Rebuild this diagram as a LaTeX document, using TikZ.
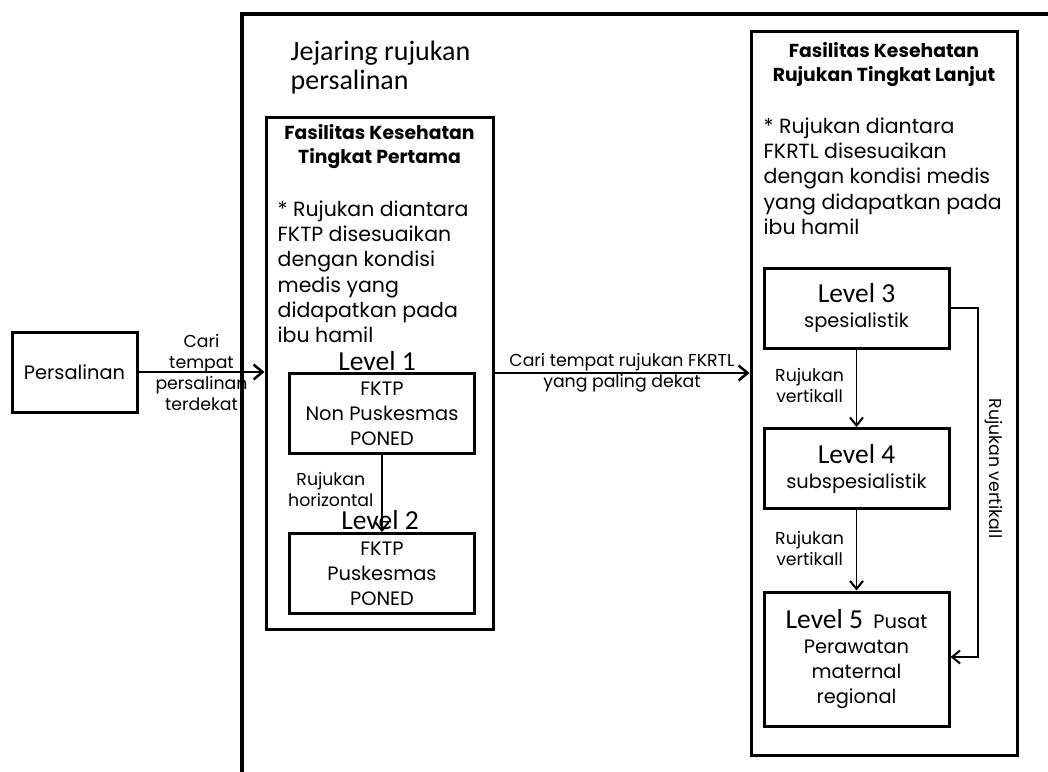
\documentclass[tikz,border=0pt]{standalone}
\usepackage{fontspec}
\setmainfont{Poppins}
\newfontfamily\calibri{Carlito}
\usetikzlibrary{arrows.meta}

\begin{document}
\begin{tikzpicture}[x=1pt,y=-1pt,->,>={Straight Barb[length=8pt,width=13pt,line width=2pt]},
  node distance=160pt,line width=1.3pt,
  box node/.style={draw,line width=3pt,inner sep=0pt,align=center,font=\fontsize{19.4}{25}\selectfont},
  level node/.style={box node,minimum width=185pt,minimum height=80pt},
  level label/.style={font=\calibri\fontsize{27.5}{28}\selectfont,inner sep=1pt,anchor=south},
  note text/.style={align=left,anchor=north west,inner sep=0pt,font=\fontsize{20.5}{25.3}\selectfont},
  title text/.style={align=center,inner sep=0pt,font=\bfseries\fontsize{18.8}{24}\selectfont},
  small text/.style={align=center,inner sep=2pt,font=\fontsize{17.3}{21}\selectfont},
  main arrow/.style={line width=1.5pt,>={Straight Barb[length=9pt,width=15pt,line width=2.5pt]}}]

 \useasboundingbox (0,0) rectangle (1048,771);

 \node[box node,minimum width=125pt,minimum height=80pt] (persalinan) at (74.5,372) {Persalinan};
 \node[box node,minimum width=227pt,minimum height=512pt] (fktp) at (379.5,373) {};
 \node[box node,minimum width=266pt,minimum height=724pt] (fkrtl) at (884,393) {};

 \node[anchor=west,align=left,inner sep=0pt,font=\calibri\fontsize{28}{29}\selectfont] (jejaring) at (290,68) {Jejaring rujukan\\persalinan};
 \node[title text] (fktp title) at (379.5,147) {Fasilitas Kesehatan\\Tingkat Pertama};
 \node[note text] (fktp note) at (277,200) {* Rujukan diantara\\FKTP disesuaikan\\dengan kondisi\\medis yang\\didapatkan pada\\ibu hamil};
 \node[title text] (fkrtl title) at (884,65) {Fasilitas Kesehatan\\Rujukan Tingkat Lanjut};
 \node[note text] (fkrtl note) at (763,117) {* Rujukan diantara\\FKRTL disesuaikan\\dengan kondisi medis\\yang didapatkan pada\\ibu hamil};

 \node[level node] (lvl1) at (382,413.5) {FKTP\\Non Puskesmas\\PONED};
 \node[level node] (lvl2) [below of=lvl1] {FKTP\\Puskesmas\\PONED};
 \node[level label] (lbl1) at ([xshift=-5pt]lvl1.north) {Level 1};
 \node[level label] (lbl2) at ([xshift=-2pt,yshift=1pt]lvl2.north) {Level 2};

 \node[level node] (lvl3) at (856.5,308) {{\calibri\fontsize{27.5}{26}\selectfont Level 3}\\spesialistik};
 \node[level node,node distance=160.5pt] (lvl4) [below of=lvl3] {{\calibri\fontsize{27.5}{26}\selectfont Level 4}\\subspesialistik};
 \node[level node,minimum height=134pt] (lvl5) at (856.5,659) {{\calibri\fontsize{27.5}{26.5}\selectfont Level 5}\ \ Pusat\\Perawatan\\maternal\\regional};

 \coordinate (bend top) at (978,308);
 \coordinate (bend bottom) at (978,657);

 \path[every node/.style={small text}]
    (persalinan.east)	edge [main arrow] node {Cari\\tempat\\persalinan\\terdekat} (persalinan.east -| fktp.west)
    (fktp.east)	edge [main arrow] node {Cari tempat rujukan FKRTL\\yang paling dekat} (fktp.east -| fkrtl.west)
    (lvl1.south)	edge node [left=6pt,yshift=4pt] {Rujukan\\horizontal} (lvl2.north)
    (lvl3.south)	edge node [left=10pt,yshift=3pt] {Rujukan\\vertikall} (lvl4.north)
    (lvl4.south)	edge node [left=10pt,yshift=2pt] {Rujukan\\vertikall} (lvl5.north);

 \draw (lvl3.east) -- (bend top) -- node[small text,rotate=-90,anchor=south,pos=0.46,inner sep=6pt] {Rujukan vertikall} (bend bottom) -- (bend bottom -| lvl5.east);

 \draw[-,line width=4pt] (242,780) -- (242,14) -- (1060,14);
\end{tikzpicture}
\end{document}
